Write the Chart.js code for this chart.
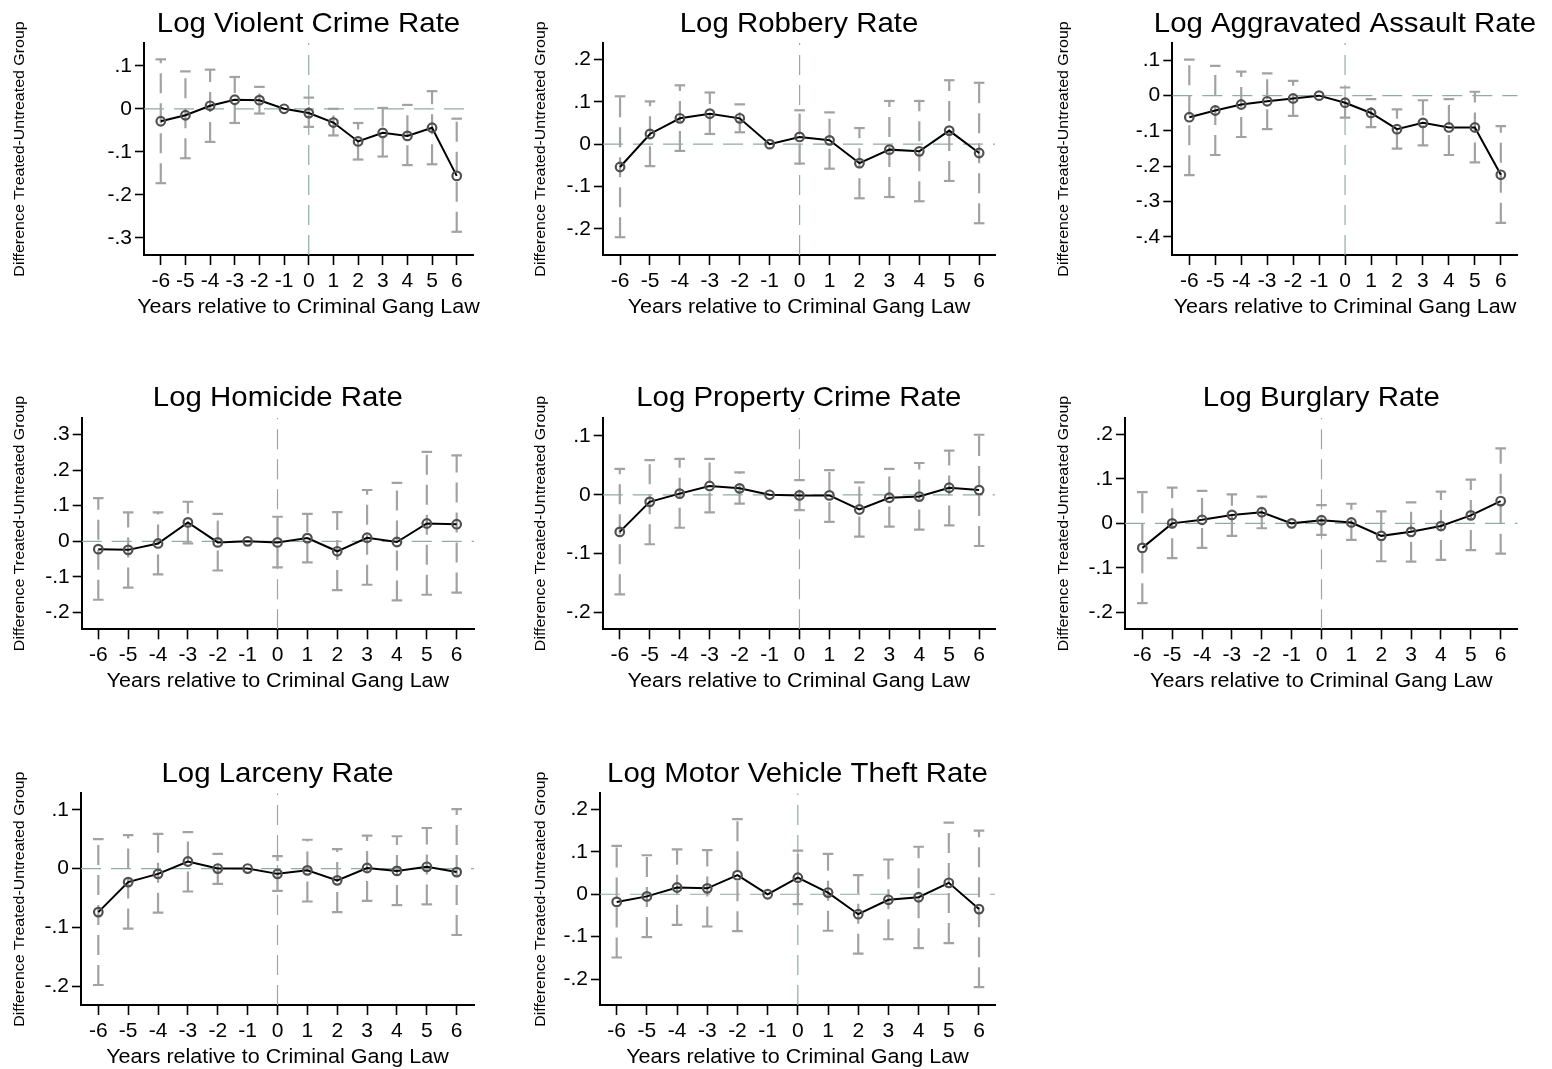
<!DOCTYPE html>
<html>
<head>
<meta charset="utf-8">
<title>Event study: crime rates around Criminal Gang Law</title>
<script src="https://cdn.jsdelivr.net/npm/chart.js@4/dist/chart.umd.min.js"></script>
<style>
  html, body { margin: 0; padding: 0; background: #fff; overflow: hidden; width: 1552px; height: 1069px; }
  canvas { position: absolute; }
</style>
</head>
<body>
<script>
const years = [-6, -5, -4, -3, -2, -1, 0, 1, 2, 3, 4, 5, 6];

// Log Violent Crime Rate
const violentCoef = [-0.029, -0.015, 0.007, 0.021, 0.020, 0, -0.010, -0.032, -0.076, -0.056, -0.063, -0.044, -0.156];
const violentLow  = [-0.173, -0.115, -0.077, -0.033, -0.011, null, -0.042, -0.062, -0.118, -0.111, -0.131, -0.129, -0.286];
const violentHigh = [0.115, 0.087, 0.091, 0.074, 0.051, null, 0.026, 0.000, -0.033, 0.002, 0.009, 0.041, -0.023];
const violentTicks = [0.1, 0, -0.1, -0.2, -0.3];

// Log Robbery Rate
const robberyCoef = [-0.054, 0.024, 0.061, 0.072, 0.061, 0, 0.017, 0.009, -0.045, -0.013, -0.017, 0.032, -0.021];
const robberyLow  = [-0.220, -0.052, -0.016, 0.024, 0.028, null, -0.046, -0.058, -0.128, -0.125, -0.135, -0.087, -0.187];
const robberyHigh = [0.113, 0.101, 0.139, 0.122, 0.094, null, 0.080, 0.075, 0.038, 0.102, 0.102, 0.151, 0.145];
const robberyTicks = [0.2, 0.1, 0, -0.1, -0.2];

// Log Aggravated Assault Rate
const assaultCoef = [-0.061, -0.042, -0.025, -0.016, -0.008, 0, -0.020, -0.049, -0.095, -0.077, -0.090, -0.090, -0.224];
const assaultLow  = [-0.225, -0.168, -0.117, -0.095, -0.057, null, -0.062, -0.089, -0.150, -0.141, -0.168, -0.189, -0.360];
const assaultHigh = [0.102, 0.084, 0.068, 0.063, 0.042, null, 0.023, -0.010, -0.039, -0.013, -0.010, 0.011, -0.086];
const assaultTicks = [0.1, 0, -0.1, -0.2, -0.3, -0.4];

// Log Homicide Rate
const homicideCoef = [-0.022, -0.024, -0.006, 0.053, -0.003, 0, -0.003, 0.009, -0.028, 0.010, -0.002, 0.050, 0.048];
const homicideLow  = [-0.164, -0.130, -0.093, -0.006, -0.082, null, -0.073, -0.059, -0.137, -0.122, -0.166, -0.150, -0.144];
const homicideHigh = [0.121, 0.081, 0.081, 0.111, 0.077, null, 0.069, 0.077, 0.082, 0.144, 0.164, 0.251, 0.241];
const homicideTicks = [0.3, 0.2, 0.1, 0, -0.1, -0.2];

// Log Property Crime Rate
const propertyCoef = [-0.063, -0.012, 0.002, 0.015, 0.011, 0, -0.001, -0.001, -0.025, -0.005, -0.003, 0.012, 0.008];
const propertyLow  = [-0.169, -0.084, -0.056, -0.030, -0.015, null, -0.026, -0.046, -0.071, -0.054, -0.059, -0.052, -0.087];
const propertyHigh = [0.044, 0.059, 0.061, 0.061, 0.038, null, 0.025, 0.042, 0.021, 0.044, 0.054, 0.075, 0.102];
const propertyTicks = [0.1, 0, -0.1, -0.2];

// Log Burglary Rate
const burglaryCoef = [-0.055, 0.000, 0.008, 0.019, 0.025, 0, 0.007, 0.002, -0.028, -0.019, -0.006, 0.018, 0.050];
const burglaryLow  = [-0.179, -0.078, -0.055, -0.028, -0.011, null, -0.026, -0.037, -0.085, -0.086, -0.082, -0.060, -0.068];
const burglaryHigh = [0.070, 0.080, 0.073, 0.065, 0.060, null, 0.041, 0.044, 0.027, 0.047, 0.071, 0.098, 0.168];
const burglaryTicks = [0.2, 0.1, 0, -0.1, -0.2];

// Log Larceny Rate
const larcenyCoef = [-0.074, -0.023, -0.009, 0.012, 0.000, 0, -0.009, -0.003, -0.020, 0.001, -0.004, 0.003, -0.006];
const larcenyLow  = [-0.198, -0.102, -0.075, -0.039, -0.026, null, -0.038, -0.056, -0.074, -0.055, -0.062, -0.061, -0.113];
const larcenyHigh = [0.050, 0.057, 0.059, 0.062, 0.025, null, 0.021, 0.049, 0.033, 0.056, 0.055, 0.069, 0.101];
const larcenyTicks = [0.1, 0, -0.1, -0.2];

// Log Motor Vehicle Theft Rate
const vehicleCoef = [-0.018, -0.005, 0.016, 0.014, 0.045, 0, 0.039, 0.004, -0.047, -0.013, -0.007, 0.027, -0.035];
const vehicleLow  = [-0.149, -0.101, -0.072, -0.076, -0.087, null, -0.023, -0.086, -0.140, -0.106, -0.127, -0.115, -0.219];
const vehicleHigh = [0.114, 0.092, 0.106, 0.104, 0.177, null, 0.103, 0.095, 0.045, 0.082, 0.112, 0.169, 0.150];
const vehicleTicks = [0.2, 0.1, 0, -0.1, -0.2];

const X_TITLE = 'Years relative to Criminal Gang Law';
const Y_TITLE = 'Difference Treated-Untreated Group';

// layout: canvas position, plot box in page px, axis ranges
const panels = [
  { title: 'Log Violent Crime Rate', coef: violentCoef, low: violentLow, high: violentHigh, yTicks: violentTicks,
    left: 0, top: 0, box: [144, 43, 473, 255], xr: [-6.68, 6.66], yr: [-0.34, 0.153] },
  { title: 'Log Robbery Rate', coef: robberyCoef, low: robberyLow, high: robberyHigh, yTicks: robberyTicks,
    left: 521, top: 0, box: [603, 43, 995, 255], xr: [-6.57, 6.53], yr: [-0.262, 0.239] },
  { title: 'Log Aggravated Assault Rate', coef: assaultCoef, low: assaultLow, high: assaultHigh, yTicks: assaultTicks,
    left: 1044, top: 0, box: [1172.3, 43, 1517.7, 255], xr: [-6.655, 6.65], yr: [-0.451, 0.149] },
  { title: 'Log Homicide Rate', coef: homicideCoef, low: homicideLow, high: homicideHigh, yTicks: homicideTicks,
    left: 0, top: 375, box: [81.7, 417.7, 474, 629.3], xr: [-6.556, 6.58], yr: [-0.247, 0.347] },
  { title: 'Log Property Crime Rate', coef: propertyCoef, low: propertyLow, high: propertyHigh, yTicks: propertyTicks,
    left: 521, top: 375, box: [602.7, 417.7, 995, 629.3], xr: [-6.57, 6.53], yr: [-0.2285, 0.131] },
  { title: 'Log Burglary Rate', coef: burglaryCoef, low: burglaryLow, high: burglaryHigh, yTicks: burglaryTicks,
    left: 1044, top: 375, box: [1125, 417.7, 1517.7, 629.3], xr: [-6.58, 6.57], yr: [-0.2376, 0.237] },
  { title: 'Log Larceny Rate', coef: larcenyCoef, low: larcenyLow, high: larcenyHigh, yTicks: larcenyTicks,
    left: 0, top: 750, box: [81, 793.3, 474, 1005], xr: [-6.58, 6.58], yr: [-0.232, 0.128] },
  { title: 'Log Motor Vehicle Theft Rate', coef: vehicleCoef, low: vehicleLow, high: vehicleHigh, yTicks: vehicleTicks,
    left: 521, top: 750, box: [600, 793.3, 995, 1005], xr: [-6.553, 6.53], yr: [-0.261, 0.238] }
];

const FONT = '"Liberation Sans", Arial, Helvetica, sans-serif';
const STRETCH = 1.05;   // text in the source is a touch wide
const REF_COLOR = '#91aca2';
const CI_COLOR = '#a2a2a2';

Chart.defaults.font.family = FONT;
Chart.defaults.color = '#000';

function stataLabel(v) {
  if (Math.abs(v) < 1e-9) return '0';
  return (v < 0 ? '-' : '') + Math.abs(v).toFixed(1).replace(/^0/, '');
}

function wideText(ctx, text, x, y, size, rot) {
  ctx.save();
  ctx.translate(x, y);
  if (rot) ctx.rotate(rot);
  ctx.scale(STRETCH, 1);
  ctx.font = size + 'px ' + FONT;
  ctx.fillText(text, 0, 0);
  ctx.restore();
}

// titles drawn centred on the plot box, like Stata does
const panelText = {
  id: 'panelText',
  afterDraw: (chart, args, opts) => {
    const { ctx, chartArea: a } = chart;
    const cx = (a.left + a.right) / 2;
    ctx.save();
    ctx.fillStyle = '#000';
    ctx.textAlign = 'center';
    ctx.textBaseline = 'alphabetic';
    wideText(ctx, opts.title, cx, a.top - 11.3, 28, 0);
    wideText(ctx, X_TITLE, cx, a.bottom + 57.8, 20.5, 0);
    ctx.textBaseline = 'middle';
    wideText(ctx, Y_TITLE, 20, (a.top + a.bottom) / 2, 15.2, -Math.PI / 2);
    ctx.restore();
  }
};

panels.forEach(p => {
  const canvas = document.createElement('canvas');
  const width = Math.min(p.box[2] + 36, 1552) - p.left;
  const height = 319;
  canvas.width = width;
  canvas.height = height;
  canvas.style.left = p.left + 'px';
  canvas.style.top = p.top + 'px';
  canvas.style.width = width + 'px';
  canvas.style.height = height + 'px';
  document.body.appendChild(canvas);

  const yAxisWidth = p.box[0] - p.left;
  const xAxisHeight = height - (p.box[3] - p.top);

  const spikes = [];
  years.forEach((yr, i) => {
    if (p.low[i] === null) return;
    spikes.push({ x: yr, y: p.low[i] }, { x: yr, y: p.high[i] }, { x: yr, y: null });
  });

  new Chart(canvas, {
    type: 'line',
    data: {
      datasets: [
        {
          label: 'Estimate',
          data: years.map((yr, i) => ({ x: yr, y: p.coef[i] })),
          borderColor: '#000',
          borderWidth: 2,
          tension: 0,
          pointStyle: 'circle',
          pointRadius: 4.3,
          pointBorderWidth: 2.2,
          pointBorderColor: '#505050',
          pointBackgroundColor: 'rgba(0,0,0,0)'
        },
        {
          label: '95% CI',
          data: spikes,
          borderColor: CI_COLOR,
          borderWidth: 2.2,
          borderDash: [20, 10],
          spanGaps: false,
          pointStyle: 'line',
          pointRadius: 5.3,
          pointBorderWidth: 2.2,
          pointBorderColor: CI_COLOR
        },
        {
          label: 'zero',
          data: [{ x: p.xr[0], y: 0 }, { x: p.xr[1], y: 0 }],
          borderColor: REF_COLOR,
          borderWidth: 1.2,
          borderDash: [20, 10],
          pointRadius: 0
        },
        {
          label: 'law',
          data: [{ x: 0, y: p.yr[0] }, { x: 0, y: p.yr[1] }],
          borderColor: REF_COLOR,
          borderWidth: 1.2,
          borderDash: [20, 10],
          pointRadius: 0
        }
      ]
    },
    plugins: [panelText],
    options: {
      responsive: false,
      animation: false,
      events: [],
      layout: {
        padding: { top: p.box[1] - p.top, right: p.left + width - p.box[2], left: 0, bottom: 0 }
      },
      plugins: {
        legend: { display: false },
        tooltip: { enabled: false },
        panelText: { title: p.title }
      },
      scales: {
        x: {
          type: 'linear',
          min: p.xr[0],
          max: p.xr[1],
          afterBuildTicks: axis => { axis.ticks = years.map(v => ({ value: v })); },
          afterFit: axis => { axis.height = xAxisHeight; },
          ticks: {
            autoSkip: false,
            maxRotation: 0,
            minRotation: 0,
            padding: 3.5,
            font: { size: 21 },
            color: '#000',
            callback: v => String(v)
          },
          grid: { drawOnChartArea: false, drawTicks: true, tickLength: 10, tickColor: '#000', tickWidth: 1.6 },
          border: { display: true, color: '#000', width: 2 }
        },
        y: {
          type: 'linear',
          min: p.yr[0],
          max: p.yr[1],
          afterBuildTicks: axis => { axis.ticks = p.yTicks.map(v => ({ value: v })); },
          afterFit: axis => { axis.width = yAxisWidth; },
          ticks: {
            padding: 3,
            font: { size: 21 },
            color: '#000',
            callback: v => stataLabel(v)
          },
          grid: { drawOnChartArea: false, drawTicks: true, tickLength: 9, tickColor: '#000', tickWidth: 1.6 },
          border: { display: true, color: '#000', width: 2 }
        }
      }
    }
  });
});
</script>
</body>
</html>
